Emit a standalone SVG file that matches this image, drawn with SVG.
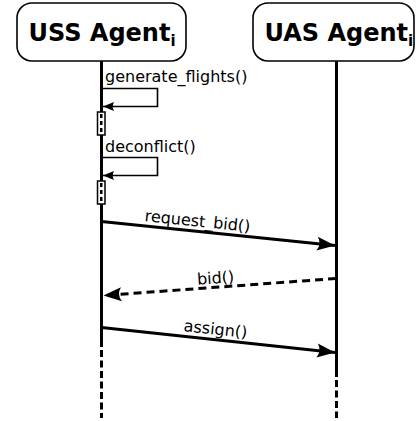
<svg xmlns="http://www.w3.org/2000/svg" width="416" height="421" viewBox="0 0 416 421">
  <style>
    .box { fill: #ffffff; stroke: #000000; stroke-width: 1.6; }
    .title { font-family: "DejaVu Sans", "Liberation Sans", sans-serif; font-weight: bold; font-size: 24px; fill: #000000; }
    .sub { font-size: 15px; }
    .label { font-family: "DejaVu Sans", "Liberation Sans", sans-serif; font-size: 16px; fill: #000000; }
    .life { stroke: #000000; stroke-width: 3; fill: none; }
    .life-dash { stroke: #000000; stroke-width: 3; fill: none; stroke-dasharray: 7 3.5; }
    .msg { stroke: #000000; stroke-width: 3; fill: none; }
    .reply { stroke: #000000; stroke-width: 3; fill: none; stroke-dasharray: 8 5; }
    .loop { stroke: #000000; stroke-width: 1.6; fill: none; }
    .act { fill: #ffffff; stroke: #000000; stroke-width: 1.5; }
    .act-core { stroke: #000000; stroke-width: 2.5; stroke-dasharray: 4 3; }
  </style>
  <defs>
    <marker id="head" markerUnits="userSpaceOnUse" markerWidth="22" markerHeight="18" refX="19" refY="8" orient="auto" viewBox="0 0 22 18">
      <path d="M19,8 L1,1 Q6,8 1,15 Z" fill="#000000"/>
    </marker>
    <marker id="head-small" markerUnits="userSpaceOnUse" markerWidth="14" markerHeight="12" refX="12" refY="6" orient="auto" viewBox="0 0 14 12">
      <path d="M12,6 L1,1.5 Q3.5,6 1,10.5 Z" fill="#000000"/>
    </marker>
  </defs>

  <!-- lifelines and messages -->
  <g id="connectors">
    <line class="life" x1="101.5" y1="61" x2="101.5" y2="347"/>
    <line class="life-dash" x1="101.5" y1="350" x2="101.5" y2="418"/>
    <line class="life" x1="336.5" y1="61" x2="336.5" y2="377"/>
    <line class="life-dash" x1="336.5" y1="380" x2="336.5" y2="418"/>

    <!-- generate_flights() self call -->
    <polyline class="loop" points="101.5,88.5 157.5,88.5 157.5,106.5 103,106.5" marker-end="url(#head-small)"/>
    <text class="label" x="105" y="82">generate_flights()</text>
    <rect class="act" x="97.5" y="112" width="7.5" height="23"/>
    <line class="act-core" x1="101.25" y1="114" x2="101.25" y2="134"/>

    <!-- deconflict() self call -->
    <polyline class="loop" points="101.5,157.5 157.5,157.5 157.5,175.5 103,175.5" marker-end="url(#head-small)"/>
    <text class="label" x="105" y="152">deconflict()</text>
    <rect class="act" x="97.5" y="181" width="7.5" height="23"/>
    <line class="act-core" x1="101.25" y1="183" x2="101.25" y2="203"/>

    <!-- request_bid() -->
    <line class="msg" x1="101.5" y1="221.5" x2="335" y2="245.5" marker-end="url(#head)"/>
    <text class="label" text-anchor="middle" transform="translate(197,226.5) rotate(5.9)">request_bid()</text>

    <!-- bid() reply -->
    <line class="reply" x1="336" y1="278.5" x2="103.5" y2="295.5" marker-end="url(#head)"/>
    <text class="label" text-anchor="middle" transform="translate(216,283.5) rotate(-4.2)">bid()</text>

    <!-- assign() -->
    <line class="msg" x1="101.5" y1="327.5" x2="335" y2="352.5" marker-end="url(#head)"/>
    <text class="label" text-anchor="middle" transform="translate(215,334.5) rotate(6.1)">assign()</text>
  </g>

  <g id="uss-agent">
    <rect class="box" x="17" y="3" width="169" height="58" rx="15" ry="15"/>
    <text class="title" x="28.5" y="41">USS Agent<tspan class="sub" dy="5">i</tspan></text>
  </g>

  <g id="uas-agent">
    <rect class="box" x="253" y="3" width="161" height="58" rx="15" ry="15"/>
    <text class="title" x="264.5" y="41">UAS Agent<tspan class="sub" dy="5">i</tspan></text>
  </g>
</svg>
